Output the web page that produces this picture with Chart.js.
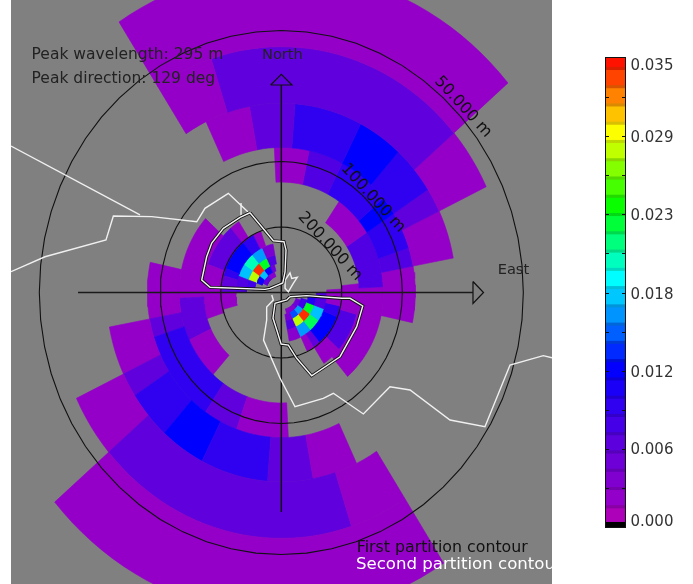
<!DOCTYPE html>
<html><head><meta charset="utf-8">
<script src="https://cdn.jsdelivr.net/npm/chart.js@4"></script>
<style>
html,body{margin:0;padding:0;background:#fff;width:693px;height:584px;overflow:hidden}
#wrapA{position:absolute;left:11px;top:0;width:541px;height:584px}
#wrapB{position:absolute;left:590px;top:0;width:103px;height:584px}
canvas{display:block}
</style></head><body>
<div id="wrapA"><canvas id="spec" width="541" height="584"></canvas></div>
<div id="wrapB"><canvas id="bar" width="103" height="584"></canvas></div>
<script>
// wavelength (m) at ring boundaries, outermost first
const ringWavelengths = [40.6,53.3,69.2,90.3,118.6,155,201.6,266,346,452,592,775];
const circleWavelengths = [50,100,200];
// each cell: [from bearing, to bearing, energy x 0.001]
const ring0 = [[-33,49.5,2],[147,229.5,2]];
const ring1 = [[-33,-18,2],[-18,49.5,6],[49.5,64.5,2],[147,162,2],[162,229.5,6],[229.5,244.5,2]];
const ring2 = [[-25.5,-10.5,2],[-10.5,4.5,6],[4.5,27,9],[27,42,12],[42,57,9],[57,64.5,6],[64.5,79.5,2],[154.5,169.5,2],[169.5,184.5,6],[184.5,207,9],[207,222,12],[222,237,9],[237,244.5,6],[244.5,259.5,2]];
const ring3 = [[-3,12,2],[12,27,7],[27,49.5,9],[49.5,57,12],[57,72,9],[72,79.5,7],[79.5,102,2],[177,199.5,2],[199.5,214.5,6],[214.5,252,9],[252,259.5,6],[259.5,282,2]];
const ring4 = [[34.5,57,2],[57,87,7],[87,139.5,2],[222,244.5,2],[244.5,267,6],[267,312,2]];
const ring5 = [[84,105,2],[105,132,7],[132,147,2],[252,289.5,2],[289.5,319.5,6],[319.5,327,2]];
const ring6 = [[87,102,2],[102,112,9],[112,140,12],[140,147,6],[147,154.5,2],[255,270,2],[270,285,6],[285,292,9],[292,320,12],[320,332,9],[332,340,2]];
const ring7 = [[90,109.5,7],[109.5,124.5,17],[124.5,139.5,22],[139.5,154.5,16],[154.5,170,3],[270,289.5,7],[289.5,304.5,17],[304.5,319.5,20],[319.5,334.5,16],[334.5,349.5,4]];
const ring8 = [[95,109.5,10],[109.5,124.5,23],[124.5,139.5,34],[139.5,154.5,28],[154.5,170,7],[275,289.5,8],[289.5,304.5,28],[304.5,319.5,34],[319.5,334.5,23],[334.5,349.5,7]];
const ring9 = [[105,124.5,8],[124.5,139.5,16],[139.5,154.5,14],[154.5,170,4],[289.5,304.5,11],[304.5,319.5,17],[319.5,334.5,11],[334.5,345,5]];
const ring10 = [[110,135,5],[135,165,3],[295,320,6],[320,340,3]];
const rings = [ring0,ring1,ring2,ring3,ring4,ring5,ring6,ring7,ring8,ring9,ring10];
// outlines in wavenumber axis units
const coastA = [[-22.34,11.18],[-11.68,5.92]];
const coastB = [[-22.34,1.59],[-19.53,2.73],[-14.49,4.01],[-13.88,5.84],[-10.71,5.79],[-6.99,5.40],[-6.31,6.43],[-4.38,7.57],[-2.75,6.15]];
const coastC = [[-3.33,6.83],[-3.33,5.79]];
const island = [[0.31,0.95],[0.72,1.51],[0.86,1.08],[1.32,1.16],[0.99,0.70],[0.58,0.06],[0.31,0.32],[0.31,0.95]];
const coastD = [[-0.79,-0.19],[-0.66,-0.57],[-1.21,-1.11],[-1.21,-2.10],[-1.47,-3.63],[-0.11,-6.53],[1.13,-8.72],[3.47,-8.08],[4.30,-7.69],[6.78,-9.27],[8.98,-7.19],[10.64,-7.44],[13.94,-9.73],[16.83,-10.24],[18.90,-5.53],[21.65,-4.82],[22.37,-4.98]];
const contourNW = [[-2.59,6.09],[-0.66,3.95],[0.22,3.88],[0.39,3.24],[0.31,1.59],[0.12,0.73],[-0.93,0.32],[-1.35,0.24],[-5.89,0.40],[-6.58,0.95],[-6.17,2.73],[-5.75,3.78],[-4.79,4.90],[-3.41,5.74],[-2.59,6.09]];
const contourSE = [[0.72,-0.32],[2.10,-0.24],[4.99,-0.44],[5.68,-0.44],[6.73,-1.03],[6.23,-2.61],[4.85,-4.90],[2.51,-6.35],[1.27,-5.02],[0.58,-4.01],[-0.02,-3.93],[-0.33,-2.99],[-0.69,-1.95],[-0.52,-0.82],[0.45,-0.57],[0.72,-0.32]];
const axisEast = [[-16.8,0],[15.84,0]];
const arrowEast = [[15.84,0.84],[16.71,0],[15.84,-0.84],[15.84,0.84]];
const axisNorth = [[0,-16.76],[0,15.84]];
const arrowNorth = [[-0.88,15.84],[0,16.65],[0.88,15.84],[-0.88,15.84]];
// colour scale
const colorStops = [[0,[196,0,172]],[0.002,[148,0,200]],[0.006,[96,0,220]],[0.009,[48,0,240]],[0.012,[0,0,255]],[0.0186,[0,255,255]],[0.0238,[0,255,0]],[0.0295,[255,255,0]],[0.035,[255,0,0]]];
const colorTicks = [0,0.00583,0.01167,0.0175,0.02333,0.02917,0.035];
const colorTickLabels = ['0.000','0.006','0.012','0.018','0.023','0.029','0.035'];
const colorLabelShift = [-5,1,2,3,2,2,8];
// text, x, y, colour, font size
const infoTexts = [
 ['Peak wavelength: 295 m',-20.64,17.82,'#222',15.5],['Peak direction: 129 deg',-20.64,16.0,'#222',15.5],
 ['North',-1.6,17.82,'#222',14.6],['East',17.88,1.45,'#222',14.6],
 ['First partition contour',6.23,-19.8,'#111',15.8],['Second partition contour',6.17,-21.1,'#fff',16.6]];
const ringTexts = [['50.000 m',15.02,14.16],['100.000 m',7.58,7.21],['200.000 m',4.02,3.51]];

function rgbAt(v,f){
  for(let i=1;i<colorStops.length;i++){
    if(v<=colorStops[i][0]||i===colorStops.length-1){
      const a=colorStops[i-1],b=colorStops[i],t=Math.min(1,(v-a[0])/(b[0]-a[0]));
      const c=a[1].map((x,j)=>Math.round((x+(b[1][j]-x)*t)*(f||1)));
      return `rgb(${c[0]},${c[1]},${c[2]})`;
    }
  }
}
const kOf=l=>1000/l;
const polar=(k,b)=>({x:k*Math.sin(b*Math.PI/180),y:k*Math.cos(b*Math.PI/180)});
const datasets=[];
rings.forEach((cells,ri)=>{
  const kO=kOf(ringWavelengths[ri]),kI=kOf(ringWavelengths[ri+1]);
  cells.forEach(c=>{
    const col=rgbAt(c[2]/1000),pts=[],n=Math.max(2,Math.ceil((c[1]-c[0])/2.5));
    for(let i=0;i<=n;i++)pts.push(polar(kO,c[0]+(c[1]-c[0])*i/n));
    for(let i=n;i>=0;i--)pts.push(polar(kI,c[0]+(c[1]-c[0])*i/n));
    pts.push(pts[0]);
    datasets.push({data:pts,showLine:true,fill:'shape',backgroundColor:col,borderColor:col,borderWidth:0.6,pointRadius:0,order:10});
  });
});
const line=(arr,color,w,order)=>datasets.push({data:arr.map(p=>({x:p[0],y:p[1]})),showLine:true,fill:false,borderColor:color,borderWidth:w,pointRadius:0,tension:0,order:order});
circleWavelengths.forEach(l=>{
  const pts=[];for(let b=0;b<=360;b+=6)pts.push(polar(kOf(l),b));
  datasets.push({data:pts,showLine:true,fill:false,borderColor:'#111',borderWidth:1.1,pointRadius:0,order:8});
});
line(axisEast,'#1a1a1a',1.5,7);line(arrowEast,'#111',1.2,7);line(axisNorth,'#111',1.5,7);line(arrowNorth,'#111',1.2,7);
[coastA,coastB,coastC,island,coastD].forEach(a=>line(a,'#f0f0f0',1.4,6));
[contourNW,contourSE].forEach(a=>{line(a,'#111',3.2,5);line(a,'#f4f4f4',1.4,4);});

const textPlugin={id:'texts',afterDatasetsDraw(ch){
  const c=ch.ctx,X=ch.scales.x,Y=ch.scales.y;
  c.save();
  c.textBaseline='alphabetic';c.textAlign='left';
  infoTexts.forEach(t=>{c.font=t[4]+'px "DejaVu Sans"';c.fillStyle=t[3];c.fillText(t[0],X.getPixelForValue(t[1]),Y.getPixelForValue(t[2]));});
  c.font='16px "DejaVu Sans"';c.textAlign='center';c.textBaseline='middle';c.fillStyle='#111';
  ringTexts.forEach(t=>{c.save();c.translate(X.getPixelForValue(t[1]),Y.getPixelForValue(t[2]));c.rotate(47.5*Math.PI/180);c.fillText(t[0],0,0);c.restore();});
  c.restore();
}};
const bgPlugin={id:'bg',beforeDraw(ch){ch.ctx.save();ch.ctx.fillStyle='#808080';ch.ctx.fillRect(0,0,ch.width,ch.height);ch.ctx.restore();}};
Chart.defaults.animation=false;
new Chart(document.getElementById('spec'),{type:'scatter',data:{datasets},plugins:[bgPlugin,textPlugin],options:{
  responsive:false,animation:false,layout:{padding:0},
  plugins:{legend:{display:false},tooltip:{enabled:false}},
  elements:{line:{tension:0}},
  scales:{x:{type:'linear',display:false,min:-22.34,max:22.37},y:{type:'linear',display:false,min:-22.25,max:22.33}}
}});

// colour bar
const barDatasets=[{data:[[0,0.035]],backgroundColor:'#000',order:9}];
const bandStart=0.00151,bandStep=0.001363;
const edges=[0.0004,bandStart];for(let i=1;i<25;i++)edges.push(bandStart+i*bandStep);edges.push(0.035);
for(let i=0;i<edges.length-1;i++){
  barDatasets.push({data:[[edges[i],edges[i+1]]],backgroundColor:rgbAt((edges[i]+edges[i+1])/2),order:5});
  if(i<edges.length-2)barDatasets.push({data:[[edges[i+1]-0.00009,edges[i+1]+0.00009]],backgroundColor:rgbAt(edges[i+1],0.85),order:4});
}
const barPlugin={id:'barDeco',afterDatasetsDraw(ch){
  const c=ch.ctx,Y=ch.scales.y,a=ch.chartArea;
  c.save();
  c.strokeStyle='#111';c.lineWidth=1;
  c.strokeRect(a.left-0.5,a.top-0.5,a.right-a.left+1,a.bottom-a.top+1);
  for(let i=1;i<12;i++){
    const y=Math.round(Y.getPixelForValue(0.035*i/12))+0.5;
    c.beginPath();c.moveTo(a.left,y);c.lineTo(a.left+3,y);c.moveTo(a.right-3,y);c.lineTo(a.right,y);c.stroke();
  }
  c.fillStyle='#333';c.font='15px "DejaVu Sans"';c.textAlign='left';c.textBaseline='middle';
  colorTicks.forEach((v,i)=>c.fillText(colorTickLabels[i],a.right+5.5,Y.getPixelForValue(v)+colorLabelShift[i]));
  c.restore();
}};
new Chart(document.getElementById('bar'),{type:'bar',data:{labels:['energy'],datasets:barDatasets},plugins:[barPlugin],options:{
  responsive:false,animation:false,
  layout:{padding:{left:16,right:68,top:58,bottom:57}},
  plugins:{legend:{display:false},tooltip:{enabled:false}},
  datasets:{bar:{barPercentage:1,categoryPercentage:1,grouped:false}},
  scales:{x:{display:false},y:{display:false,min:0,max:0.035}}
}});
</script>
</body></html>
